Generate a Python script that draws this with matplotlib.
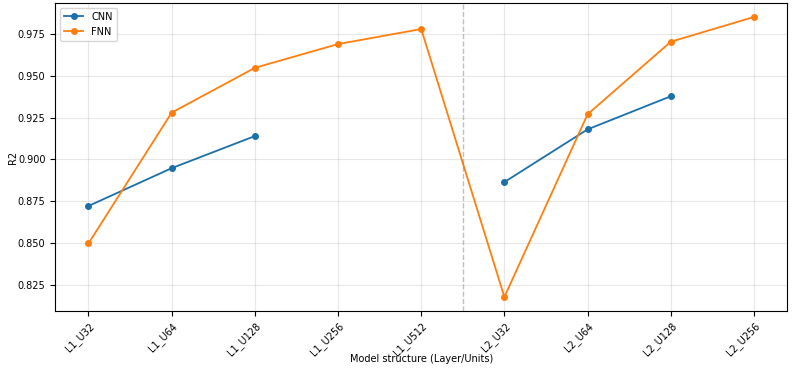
import numpy as np
import matplotlib.pyplot as plt

# model structures on the x axis
structures = ['L1_U32', 'L1_U64', 'L1_U128', 'L1_U256', 'L1_U512',
              'L2_U32', 'L2_U64', 'L2_U128', 'L2_U256']
# R2 per structure (nan = not evaluated)
cnn_r2 = [0.8722, 0.8948, 0.9140, np.nan, np.nan, 0.8865, 0.9180, 0.9378, np.nan]
fnn_r2 = [0.8498, 0.9280, 0.9548, 0.9690, 0.9780, 0.8178, 0.9270, 0.9704, 0.9852]

plt.rcParams['font.size'] = 7

fig = plt.figure(figsize=(8, 3.76), dpi=100)
ax = fig.add_axes([0.069, 0.173, 0.915, 0.819])

x = np.arange(len(structures))
ax.plot(x, cnn_r2, marker='o', markersize=4, linewidth=1.3, color='#1a70a8', label='CNN')
ax.plot(x, fnn_r2, marker='o', markersize=4, linewidth=1.3, color='#ff7f0e', label='FNN')

# separator between 1-layer and 2-layer models
ax.axvline(4.5, color='gray', linestyle='--', linewidth=1, alpha=0.5)

ax.set_xticks(x)
ax.set_xticklabels(structures, rotation=45, ha='right', rotation_mode='anchor')
ax.set_yticks([0.825, 0.850, 0.875, 0.900, 0.925, 0.950, 0.975])
ax.grid(True, alpha=0.3)
ax.set_xlabel('Model structure (Layer/Units)', labelpad=-3)
ax.set_ylabel('R2', labelpad=0)
ax.legend(loc='upper left')

fig.savefig('out.png', dpi=100)
